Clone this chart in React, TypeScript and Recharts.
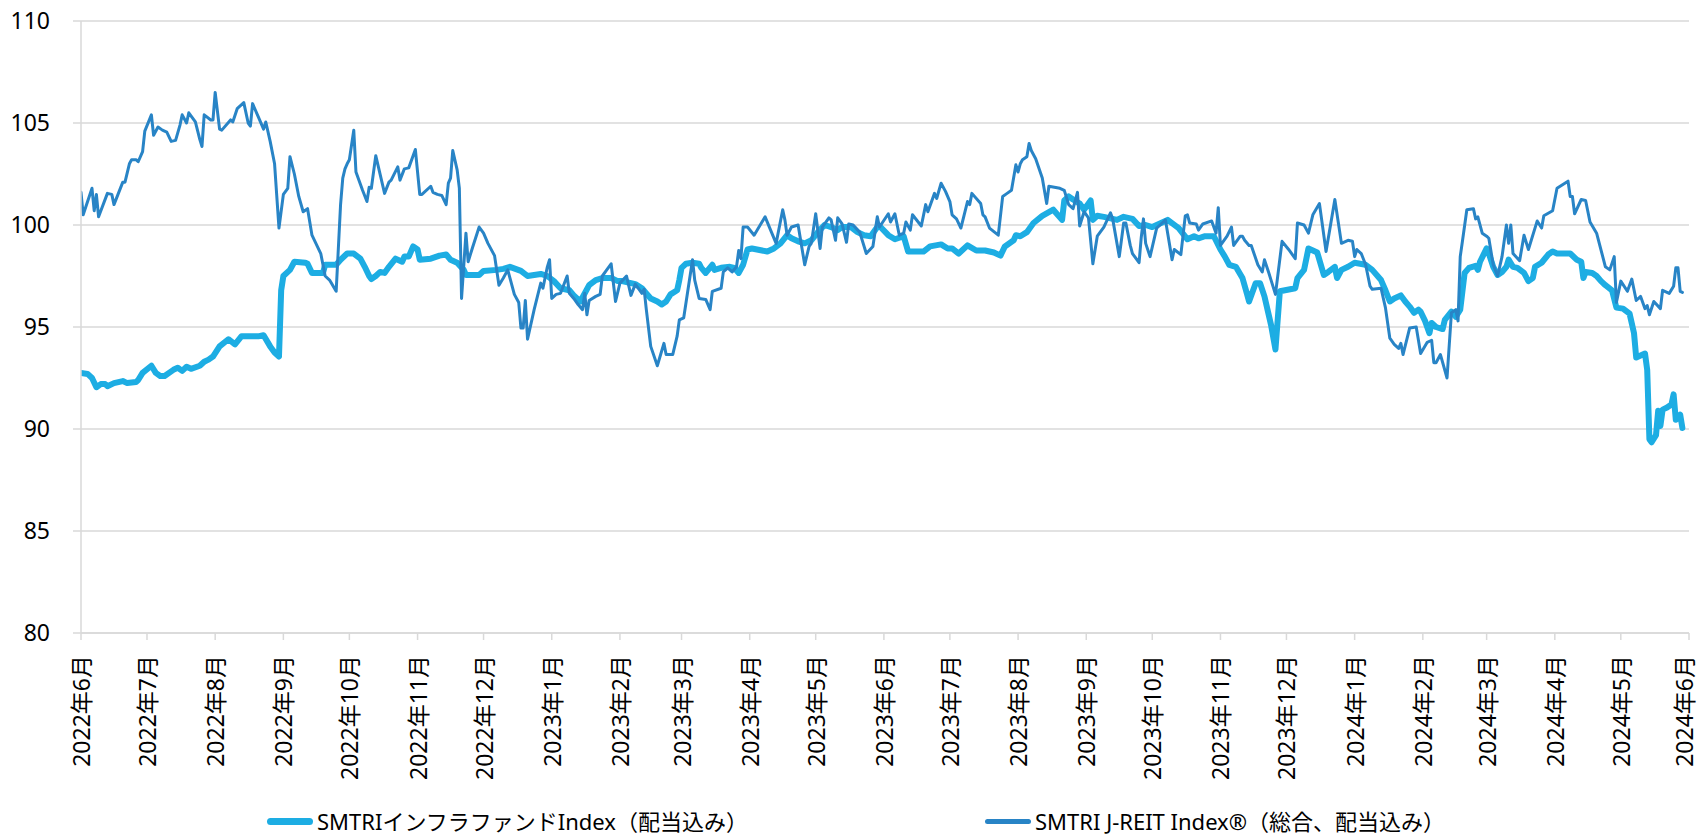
import { LineChart, Line, XAxis, YAxis, CartesianGrid } from 'recharts';

// days counted from 2022-06-01
const MONTH_DAYS = [0, 30, 61, 92, 122, 153, 183, 214, 245, 273, 304, 334, 365, 395, 426, 457, 487, 518, 548, 579, 610, 639, 670, 700, 731];
const MONTH_LABELS = [
  '2022年6月', '2022年7月', '2022年8月', '2022年9月', '2022年10月', '2022年11月', '2022年12月',
  '2023年1月', '2023年2月', '2023年3月', '2023年4月', '2023年5月', '2023年6月', '2023年7月',
  '2023年8月', '2023年9月', '2023年10月', '2023年11月', '2023年12月',
  '2024年1月', '2024年2月', '2024年3月', '2024年4月', '2024年5月', '2024年6月',
];
const Y_TICKS = [80, 85, 90, 95, 100, 105, 110];

const INFRA_NAME = 'SMTRIインフラファンドIndex（配当込み）';
const REIT_NAME = 'SMTRI J-REIT Index®（総合、配当込み）';

const INFRA_DAYS = [
  0, 3, 5, 7, 9, 11, 12, 15, 19, 21, 25, 26, 28, 32, 34, 36, 38, 42, 44, 46, 48, 50, 54, 56, 58, 60, 63, 67, 70, 73,
  76, 81, 83, 86, 88, 90, 91, 92, 95, 97, 102, 103, 105, 110, 111, 116, 118, 121, 124, 127, 129, 131, 132, 134, 136, 138, 140, 143, 146, 147,
  149, 151, 153, 154, 159, 163, 166, 168, 171, 174, 175, 181, 183, 189, 192, 195, 200, 203, 209, 212, 215, 218, 222, 224, 227, 231, 234, 237, 241, 244,
  246, 250, 252, 255, 257, 259, 262, 264, 266, 268, 271, 272, 273, 275, 278, 281, 282, 284, 287, 288, 291, 295, 297, 299, 301, 303, 305, 312, 315, 318,
  321, 323, 326, 329, 332, 335, 338, 341, 344, 346, 350, 353, 356, 359, 362, 363, 367, 370, 374, 376, 383, 386, 391, 394, 396, 399, 403, 407, 411, 415,
  418, 420, 424, 425, 427, 430, 433, 437, 442, 446, 447, 449, 451, 454, 456, 459, 460, 462, 465, 471, 474, 478, 481, 484, 487, 491, 494, 499, 503, 506,
  508, 511, 515, 518, 520, 522, 525, 528, 530, 531, 534, 536, 538, 541, 543, 545, 552, 553, 556, 558, 562, 565, 567, 570, 571, 573, 576, 579, 584, 587,
  591, 593, 595, 597, 600, 602, 604, 606, 608, 609, 611, 613, 614, 616, 619, 620, 623, 625, 627, 629, 631, 634, 635, 636, 639, 640, 642, 644, 646, 648,
  649, 651, 653, 656, 658, 660, 661, 664, 667, 669, 671, 677, 680, 682, 683, 684, 687, 689, 691, 693, 696, 698, 701, 704, 706, 707, 709, 711, 712, 713,
  714, 716, 717, 718, 719, 721, 723, 724, 725, 727, 728,
];
const INFRA_VALUES = [
  92.75, 92.7, 92.5, 92.05, 92.2, 92.2, 92.1, 92.25, 92.35, 92.25, 92.3, 92.4, 92.75, 93.1, 92.75, 92.6, 92.6, 92.9, 93.0, 92.85, 93.05, 92.95, 93.1, 93.3, 93.4, 93.55, 94.05, 94.4, 94.15, 94.55,
  94.55, 94.55, 94.6, 94.05, 93.75, 93.55, 96.8, 97.5, 97.8, 98.2, 98.15, 98.1, 97.65, 97.65, 98.05, 98.05, 98.3, 98.6, 98.6, 98.35, 97.95, 97.5, 97.35, 97.5, 97.7, 97.65, 97.95, 98.35, 98.2, 98.45,
  98.45, 98.95, 98.8, 98.3, 98.35, 98.5, 98.55, 98.3, 98.15, 97.8, 97.55, 97.55, 97.75, 97.8, 97.85, 97.95, 97.75, 97.5, 97.6, 97.5, 97.25, 96.9, 96.8, 96.55, 96.25, 97.05, 97.3, 97.4, 97.4, 97.25,
  97.25, 97.15, 97.1, 96.9, 96.65, 96.4, 96.25, 96.1, 96.25, 96.6, 96.8, 97.3, 97.9, 98.1, 98.15, 98.1, 97.9, 97.65, 98.05, 97.8, 97.9, 97.95, 97.9, 97.65, 98.05, 98.8, 98.85, 98.7, 98.85, 99.1,
  99.5, 99.35, 99.2, 99.1, 99.25, 99.65, 100.0, 99.9, 99.75, 99.9, 99.9, 99.65, 99.5, 99.45, 99.9, 99.95, 99.5, 99.3, 99.45, 98.7, 98.7, 98.95, 99.05, 98.85, 98.85, 98.6, 99.0, 98.75, 98.75, 98.65,
  98.5, 98.95, 99.25, 99.5, 99.45, 99.65, 100.1, 100.45, 100.75, 100.25, 101.2, 101.4, 101.25, 101.05, 100.75, 101.2, 100.25, 100.45, 100.4, 100.25, 100.4, 100.3, 99.95, 100.0, 99.9, 100.1, 100.25, 99.85, 99.3, 99.45,
  99.35, 99.45, 99.45, 98.8, 98.45, 98.05, 97.95, 97.4, 96.65, 96.25, 97.15, 97.15, 96.5, 95.1, 93.9, 96.75, 96.9, 97.4, 97.8, 98.85, 98.65, 97.55, 97.7, 97.95, 97.4, 97.8, 97.95, 98.15, 98.05, 97.8,
  97.3, 96.8, 96.25, 96.4, 96.55, 96.25, 96.0, 95.7, 95.85, 95.75, 95.3, 94.7, 95.2, 95.0, 94.9, 95.35, 95.75, 95.5, 95.85, 97.65, 97.9, 98.0, 97.8, 98.2, 98.85, 98.6, 97.95, 97.55, 97.7, 97.95,
  98.3, 97.95, 97.9, 97.65, 97.25, 97.4, 97.95, 98.15, 98.55, 98.7, 98.6, 98.6, 98.3, 98.2, 97.4, 97.7, 97.65, 97.5, 97.25, 97.05, 96.8, 95.95, 95.9, 95.65, 94.7, 93.5, 93.6, 93.7, 92.9, 89.5,
  89.35, 89.7, 90.9, 90.15, 90.95, 91.05, 91.2, 91.7, 90.45, 90.7, 90.05,
];

const REIT_DAYS = [
  0, 1, 5, 6, 7, 8, 12, 14, 15, 19, 20, 22, 23, 25, 26, 28, 29, 32, 33, 35, 37, 39, 41, 43, 45, 46, 48, 49, 52, 54,
  55, 56, 59, 60, 61, 63, 64, 68, 69, 71, 74, 76, 77, 78, 81, 83, 84, 86, 88, 90, 92, 94, 95, 97, 99, 101, 103, 105, 109, 110,
  111, 113, 116, 118, 119, 120, 121, 122, 124, 125, 128, 130, 131, 132, 134, 138, 140, 141, 144, 145, 147, 149, 152, 154, 155, 159, 160, 162, 164, 166,
  167, 168, 169, 171, 172, 173, 175, 176, 178, 181, 183, 185, 188, 190, 192, 194, 197, 199, 200, 201, 202, 203, 206, 209, 210, 212, 213, 214, 216, 218,
  221, 222, 224, 226, 228, 229, 230, 231, 234, 236, 237, 239, 241, 243, 245, 248, 250, 252, 255, 256, 257, 259, 262, 265, 266, 269, 271, 272, 274, 278,
  279, 281, 284, 286, 287, 291, 292, 294, 296, 298, 299, 300, 301, 303, 306, 311, 316, 319, 320, 321, 323, 326, 329, 331, 332, 334, 336, 337, 340, 341,
  343, 344, 346, 348, 349, 351, 354, 357, 360, 362, 363, 367, 368, 370, 372, 374, 375, 377, 378, 382, 384, 385, 388, 389, 391, 393, 395, 396, 398, 400,
  403, 404, 405, 409, 410, 411, 413, 417, 419, 421, 423, 425, 426, 427, 428, 430, 431, 432, 434, 437, 439, 440, 445, 447, 449, 451, 453, 454, 456, 458,
  460, 462, 465, 468, 469, 472, 474, 475, 477, 478, 481, 482, 483, 484, 486, 489, 491, 493, 496, 497, 500, 502, 503, 504, 507, 508, 510, 514, 516, 517,
  518, 521, 523, 524, 527, 528, 529, 531, 532, 535, 537, 538, 540, 541, 543, 546, 549, 552, 553, 556, 558, 560, 563, 566, 570, 573, 576, 578, 579, 580,
  582, 584, 586, 587, 591, 593, 595, 597, 599, 600, 601, 604, 607, 609, 612, 614, 615, 616, 618, 621, 623, 625, 626, 627, 628, 630, 633, 634, 635, 637,
  639, 640, 642, 644, 646, 648, 649, 650, 651, 654, 656, 658, 662, 664, 665, 669, 671, 676, 677, 678, 679, 682, 684, 686, 689, 693, 695, 697, 698, 700,
  703, 705, 707, 709, 711, 712, 713, 715, 718, 719, 722, 724, 725, 726, 727, 728,
];
const REIT_VALUES = [
  101.6, 100.5, 101.8, 100.7, 101.5, 100.4, 101.55, 101.5, 101.0, 102.1, 102.1, 103.0, 103.2, 103.2, 103.1, 103.6, 104.6, 105.4, 104.4, 104.8, 104.65, 104.55, 104.1, 104.15, 104.9, 105.4, 105.0, 105.5, 105.05, 104.2,
  103.85, 105.4, 105.15, 105.15, 106.5, 104.7, 104.65, 105.15, 105.05, 105.7, 106.0, 105.0, 104.85, 105.95, 105.2, 104.7, 105.05, 104.1, 103.0, 99.85, 101.5, 101.8, 103.35, 102.5, 101.4, 100.65, 100.8, 99.5, 98.6, 98.05,
  97.5, 97.3, 96.75, 101.0, 102.3, 102.75, 103.0, 103.2, 104.65, 102.6, 101.7, 101.15, 101.85, 101.8, 103.4, 101.55, 102.1, 102.2, 102.85, 102.2, 102.75, 102.8, 103.7, 101.5, 101.5, 101.9, 101.6, 101.5, 101.45, 101.0,
  102.05, 102.3, 103.65, 102.7, 101.8, 96.4, 99.6, 98.2, 98.9, 99.9, 99.6, 99.1, 98.5, 97.05, 97.4, 97.8, 96.6, 96.2, 94.95, 94.95, 96.3, 94.4, 95.85, 97.15, 96.9, 97.95, 98.3, 96.4, 96.6, 96.65,
  97.5, 96.65, 96.4, 96.1, 95.85, 96.65, 95.6, 96.3, 96.5, 96.6, 97.5, 97.8, 98.1, 96.25, 97.15, 97.5, 96.55, 97.1, 96.65, 96.85, 95.85, 94.05, 93.1, 94.2, 93.65, 93.65, 94.55, 95.35, 95.45, 98.3,
  97.3, 96.4, 96.35, 95.85, 96.75, 96.9, 97.7, 97.9, 97.7, 97.95, 98.75, 98.35, 99.9, 99.9, 99.5, 100.4, 99.1, 100.75, 100.25, 99.5, 99.9, 100.0, 98.05, 98.95, 99.1, 100.55, 98.85, 99.9, 100.35, 100.25,
  99.25, 100.35, 100.05, 99.15, 100.05, 100.0, 99.65, 98.6, 98.95, 100.4, 99.9, 100.55, 100.15, 100.55, 99.5, 99.6, 100.15, 99.75, 100.5, 99.95, 101.0, 100.65, 101.55, 101.3, 102.05, 101.65, 101.15, 100.5, 100.3, 99.85,
  101.15, 101.0, 101.55, 101.05, 100.5, 100.4, 99.85, 99.5, 101.4, 101.55, 101.7, 102.95, 102.6, 103.0, 103.2, 103.35, 104.0, 103.65, 103.25, 102.3, 101.05, 101.9, 101.8, 101.7, 101.0, 100.8, 101.6, 99.95, 100.65, 100.35,
  98.1, 99.45, 99.9, 100.6, 100.3, 98.45, 100.1, 100.1, 99.0, 98.6, 98.15, 99.4, 100.3, 99.1, 98.45, 99.85, 100.05, 100.25, 98.3, 98.8, 98.55, 100.45, 100.5, 100.1, 100.05, 99.75, 100.05, 100.2, 99.6, 100.85,
  99.0, 99.45, 99.9, 99.0, 99.45, 99.45, 99.25, 99.0, 99.0, 98.05, 97.7, 98.3, 97.65, 97.3, 96.6, 99.2, 98.8, 98.35, 100.1, 100.0, 99.6, 100.5, 101.05, 98.7, 101.25, 99.1, 99.25, 99.2, 98.45, 98.8,
  98.6, 98.05, 97.0, 96.85, 96.9, 95.95, 94.45, 94.15, 93.95, 94.2, 93.65, 94.95, 95.0, 93.7, 94.25, 94.35, 93.25, 93.25, 93.65, 92.5, 95.7, 95.85, 95.3, 98.45, 99.2, 100.75, 100.8, 100.3, 100.4, 99.6,
  99.45, 99.35, 98.05, 97.5, 98.45, 100.0, 99.1, 100.0, 98.6, 98.25, 99.5, 98.8, 100.2, 99.85, 100.45, 100.7, 101.8, 102.15, 101.4, 101.4, 100.55, 101.25, 101.2, 100.15, 99.6, 97.95, 97.8, 98.45, 96.2, 97.25,
  96.75, 97.35, 96.3, 96.5, 95.9, 96.05, 95.6, 96.25, 95.9, 96.8, 96.65, 97.0, 97.9, 97.9, 96.75, 96.7,
];

const INFRA_COLOR = '#1dade3';
const REIT_COLOR = '#2884c6';
const GRID_COLOR = '#d9d9d9';
const FONT = "'Noto Sans', 'Noto Sans CJK JP', sans-serif";

const infraData = INFRA_DAYS.map((day, i) => ({ day, value: INFRA_VALUES[i] }));
const reitData = REIT_DAYS.map((day, i) => ({ day, value: REIT_VALUES[i] }));

function MonthTick({ x, y, payload }: any) {
  const label = MONTH_LABELS[MONTH_DAYS.indexOf(payload.value)];
  // keep the last label inside the picture
  const cx = Math.min(x, 1684);
  return (
    <text
      x={cx}
      y={y}
      transform={`rotate(-90, ${cx}, ${y})`}
      textAnchor="end"
      dominantBaseline="central"
      fontSize={23}
      fontFamily={FONT}
      fill="#000"
    >
      {label}
    </text>
  );
}

function LegendItem({ color, width, label, left }: { color: string; width: number; label: string; left: number }) {
  return (
    <div style={{ position: 'absolute', left, top: 808, height: 26, display: 'flex', alignItems: 'center' }}>
      <div style={{ width: 46, height: width, borderRadius: width / 2, background: color, marginRight: 4 }} />
      <span style={{ fontSize: 22, lineHeight: '26px', fontFamily: FONT, color: '#000', whiteSpace: 'nowrap' }}>{label}</span>
    </div>
  );
}

export default function App() {
  return (
    <div style={{ position: 'fixed', left: 0, top: 0, width: 1700, height: 836, background: '#fff' }}>
      <LineChart width={1700} height={836} margin={{ top: 21, right: 11, left: 0, bottom: 73 }}>
        <CartesianGrid vertical={false} stroke={GRID_COLOR} strokeWidth={1.5} />
        <XAxis
          type="number"
          dataKey="day"
          domain={[0, 731]}
          ticks={MONTH_DAYS}
          interval={0}
          allowDataOverflow
          height={130}
          tickSize={7}
          tickMargin={15}
          tick={<MonthTick />}
          axisLine={{ stroke: GRID_COLOR, strokeWidth: 1.5 }}
          tickLine={{ stroke: GRID_COLOR, strokeWidth: 1.5 }}
        />
        <YAxis
          type="number"
          domain={[80, 110]}
          ticks={Y_TICKS}
          interval={0}
          width={81}
          tickSize={8}
          tickMargin={23}
          tick={{ fontSize: 23, fontFamily: FONT, fill: '#000' }}
          axisLine={{ stroke: GRID_COLOR, strokeWidth: 1.5 }}
          tickLine={{ stroke: GRID_COLOR, strokeWidth: 1.5 }}
        />
        <Line
          data={infraData}
          dataKey="value"
          name={INFRA_NAME}
          type="linear"
          stroke={INFRA_COLOR}
          strokeWidth={6}
          strokeLinejoin="round"
          strokeLinecap="round"
          dot={false}
          isAnimationActive={false}
        />
        <Line
          data={reitData}
          dataKey="value"
          name={REIT_NAME}
          type="linear"
          stroke={REIT_COLOR}
          strokeWidth={3}
          strokeLinejoin="round"
          strokeLinecap="round"
          dot={false}
          isAnimationActive={false}
        />
      </LineChart>
      <LegendItem color={INFRA_COLOR} width={7} label={INFRA_NAME} left={267} />
      <LegendItem color={REIT_COLOR} width={5} label={REIT_NAME} left={985} />
    </div>
  );
}
